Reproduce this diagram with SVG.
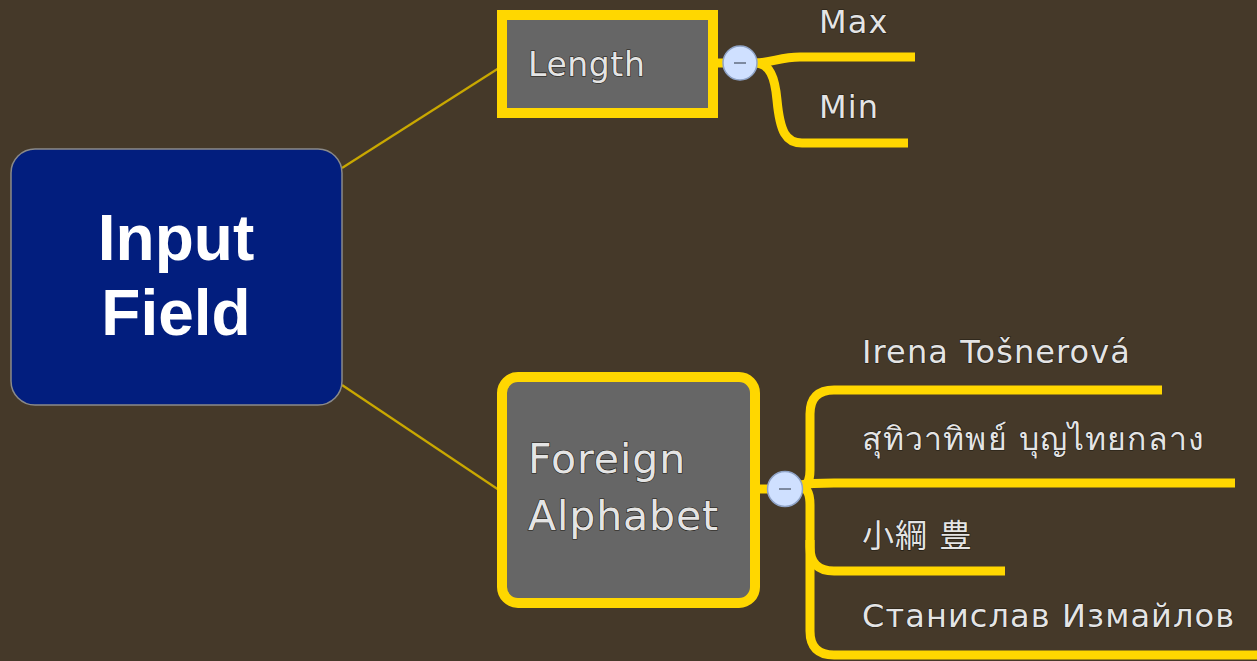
<svg xmlns="http://www.w3.org/2000/svg" width="1257" height="661" viewBox="0 0 1257 661">
  <style>
    .label { font-family: "DejaVu Sans", "Noto Sans", "Noto Sans CJK JP", sans-serif; fill: #E4E4E4; stroke: #1E1A12; stroke-width: 1.2; paint-order: stroke; }
    .leaf { font-size: 32px; letter-spacing: 1.1px; }
    .thin { fill: none; stroke: #C9A800; stroke-width: 2.2; }
    .branch { fill: none; stroke: #FFD700; stroke-width: 9; stroke-linecap: butt; }
    .toggle circle { fill: #CFE0FF; stroke: #8FA3C6; stroke-width: 1.5; }
    .toggle line { stroke: #7D8AA0; stroke-width: 2; }
  </style>
  <rect width="1257" height="661" fill="#453929"/>

  <g id="connectors">
    <line class="thin" x1="342" y1="168" x2="499" y2="68"/>
    <line class="thin" x1="342" y1="385" x2="499" y2="490"/>
    <!-- Length children -->
    <line class="branch" x1="718" y1="63" x2="728" y2="63"/>
    <path class="branch" d="M 755 63 C 772 63 780 57 800 57 L 915 57"/>
    <path class="branch" d="M 755 63 C 770 63 775 78 777 100 C 780 132 786 143 802 143 L 908 143"/>
    <!-- Foreign Alphabet children -->
    <line class="branch" x1="760" y1="489" x2="770" y2="489"/>
    <path class="branch" d="M 800 487 Q 810 487 810 470 V 414 Q 810 390 834 390 H 1162"/>
    <path class="branch" d="M 800 485 Q 810 483 834 483 H 1235"/>
    <path class="branch" d="M 800 487 Q 810 487 810 505 V 547 Q 810 571 834 571 H 1005"/>
    <path class="branch" d="M 810 540 V 631 Q 810 655 834 655 H 1262"/>
  </g>

  <g id="node-input-field">
    <rect x="11" y="149" width="331" height="256" rx="24" fill="#021E7E" stroke="#8A8A8A" stroke-width="1.5"/>
    <text x="176" y="260" text-anchor="middle" font-family="'Liberation Sans', Arial, sans-serif" font-weight="bold" font-size="64" fill="#FFFFFF">Input</text>
    <text x="176" y="335" text-anchor="middle" font-family="'Liberation Sans', Arial, sans-serif" font-weight="bold" font-size="64" fill="#FFFFFF">Field</text>
  </g>

  <g id="node-length">
    <rect x="502" y="15" width="211" height="98" fill="#666666" stroke="#FFD700" stroke-width="10"/>
    <text class="label" x="528" y="76" font-size="33" letter-spacing="0.6">Length</text>
  </g>
  <g id="toggle-length" class="toggle">
    <circle cx="740" cy="63" r="17"/>
    <line x1="734" y1="63" x2="746" y2="63"/>
  </g>

  <g id="node-max">
    <text class="label leaf" x="819" y="33" letter-spacing="0.3">Max</text>
  </g>
  <g id="node-min">
    <text class="label leaf" x="819" y="118" letter-spacing="0.3">Min</text>
  </g>

  <g id="node-foreign-alphabet">
    <rect x="502" y="377" width="253" height="226" rx="16" fill="#666666" stroke="#FFD700" stroke-width="10"/>
    <text class="label" x="528" y="473" font-size="41" letter-spacing="0.9">Foreign</text>
    <text class="label" x="528" y="530" font-size="41" letter-spacing="0.9">Alphabet</text>
  </g>
  <g id="toggle-foreign" class="toggle">
    <circle cx="785" cy="489" r="17.5"/>
    <line x1="779" y1="489" x2="791" y2="489"/>
  </g>

  <g id="node-irena">
    <text class="label leaf" x="862" y="363">Irena Tošnerová</text>
  </g>
  <g id="node-thai">
    <text class="label leaf" x="862" y="450">สุทิวาทิพย์ บุญไทยกลาง</text>
  </g>
  <g id="node-kanji">
    <text class="label leaf" x="862" y="547">小綱 豊</text>
  </g>
  <g id="node-cyrillic">
    <text class="label leaf" x="862" y="627" letter-spacing="1.3">Станислав Измайлов</text>
  </g>
</svg>
